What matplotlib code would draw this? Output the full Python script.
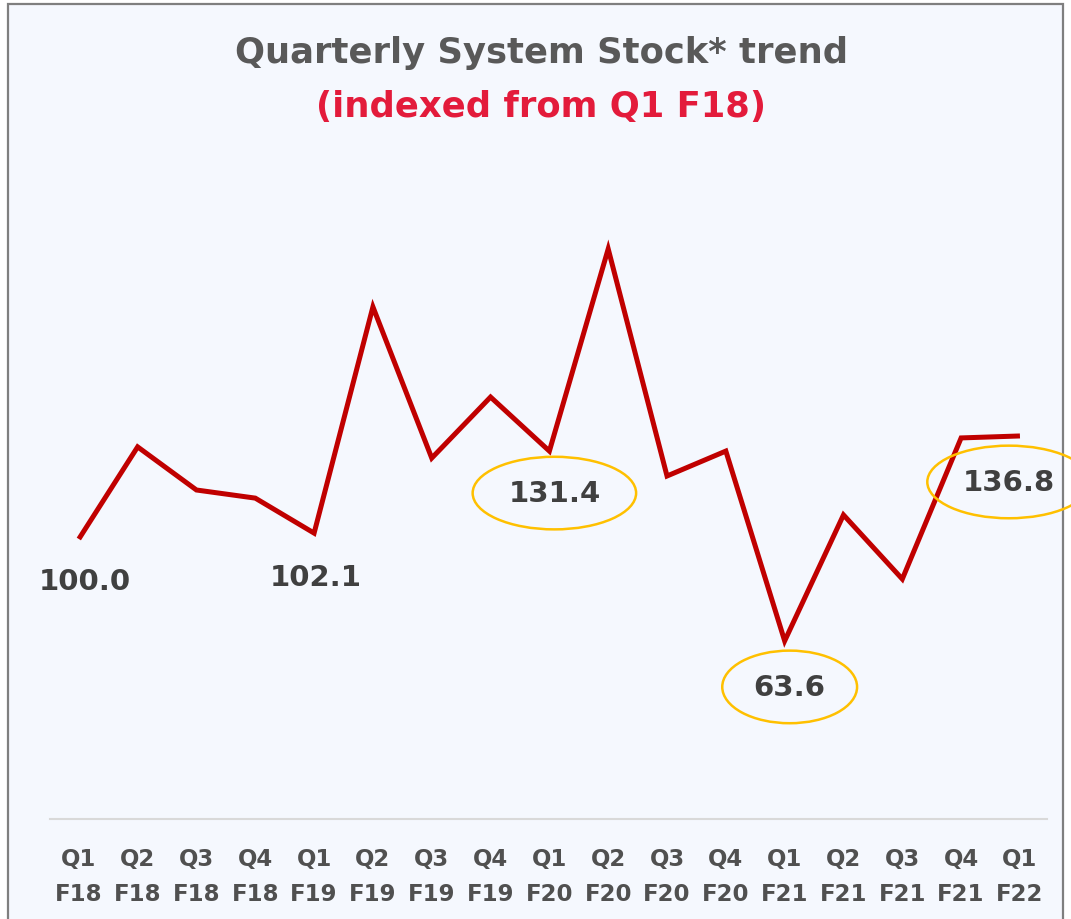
import matplotlib.pyplot as plt
from matplotlib.patches import Rectangle

quarters = ["Q1\nF18", "Q2\nF18", "Q3\nF18", "Q4\nF18",
            "Q1\nF19", "Q2\nF19", "Q3\nF19", "Q4\nF19",
            "Q1\nF20", "Q2\nF20", "Q3\nF20", "Q4\nF20",
            "Q1\nF21", "Q2\nF21", "Q3\nF21", "Q4\nF21",
            "Q1\nF22"]
stock_index = [100.0, 132.9, 117.5, 114.6,
               102.1, 182.9, 128.9, 150.7,
               131.4, 203.6, 122.5, 131.4,
               63.6, 108.6, 85.7, 136.1,
               136.8]
labelled = [0, 4, 8, 12, 16]
circled = [8, 12, 16]

fnt = ['DejaVu Sans']
grey = '#595959'
bg = '#F5F8FE'

fig = plt.figure(figsize=(10.71, 9.2), dpi=100)
fig.patch.set_facecolor('white')

# panel frame
frame = Rectangle((8 / 1071, -0.01), 1055 / 1071, 1 - 5 / 920 + 0.01,
                  transform=fig.transFigure, facecolor=bg,
                  edgecolor='#7F7F7F', linewidth=1.6, zorder=-5)
fig.patches.append(frame)

ax = fig.add_axes([50 / 1071, 100 / 920, 997 / 1071, 616 / 920])
ax.set_facecolor('none')
x = list(range(len(stock_index)))
ax.plot(x, stock_index, color='#C00000', lw=3.6, solid_joinstyle='miter',
        solid_capstyle='butt', zorder=3)
ax.set_xlim(-0.49, 16.46)
ax.set_ylim(0, 220)

for sp in ['top', 'left', 'right']:
    ax.spines[sp].set_visible(False)
ax.spines['bottom'].set_color('#D9D9D9')
ax.spines['bottom'].set_linewidth(1.5)
ax.set_yticks([])
ax.set_xticks(x)
ax.set_xticklabels(quarters, family=fnt, fontsize=16.5, fontweight='bold',
                   color='#505050', linespacing=1.7)
ax.tick_params(axis='x', length=0, pad=20)

offsets = {0: (6, -42), 4: (2, -44), 8: (5, -42), 12: (5, -46), 16: (-11, -46)}
for i in labelled:
    box = None
    if i in circled:
        box = dict(boxstyle='ellipse,pad=0.4', facecolor='none',
                   edgecolor='#FFC000', linewidth=1.8)
    ax.annotate(f"{stock_index[i]:.1f}", (i, stock_index[i]),
                xytext=offsets[i], textcoords='offset pixels',
                ha='center', va='center', family=fnt, fontsize=21,
                fontweight='bold', color='#404040', bbox=box,
                annotation_clip=False, zorder=4)

fig.text(0.506, 1 - 53 / 920, "Quarterly System Stock* trend", ha='center',
         va='center', family=fnt, fontsize=25.5, fontweight='bold', color=grey)
fig.text(0.505, 1 - 107 / 920, "(indexed from Q1 F18)", ha='center',
         va='center', family=fnt, fontsize=25.5, fontweight='bold',
         color='#E31B3B')

fig.savefig('out.png', dpi=100, facecolor=fig.get_facecolor())
